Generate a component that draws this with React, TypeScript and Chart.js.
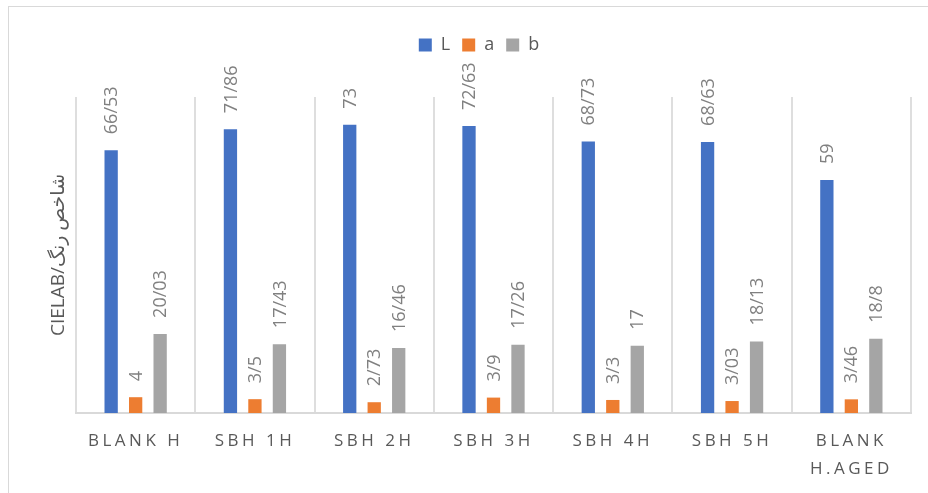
import React, { useEffect, useRef } from "react";
import { Chart, registerables, layouts } from "chart.js";

Chart.register(...registerables);

const categories: (string | string[])[] = [
  "BLANK H",
  "SBH 1H",
  "SBH 2H",
  "SBH 3H",
  "SBH 4H",
  "SBH 5H",
  ["BLANK", "H.AGED"],
];
const seriesNames = ["L", "a", "b"];
const valuesL = [66.53, 71.86, 73, 72.63, 68.73, 68.63, 59];
const valuesA = [4, 3.5, 2.73, 3.9, 3.3, 3.03, 3.46];
const valuesB = [20.03, 17.43, 16.46, 17.26, 17, 18.13, 18.8];
const seriesColors = ["#4472C4", "#ED7D31", "#A5A5A5"];
const yTitle = "CIELAB/شاخص رنگ";

const W = 919;
const H = 486;
const SPACER = 33;
const X_SPACING = "3.5px";

const fmt = (v: number) => String(v).replace(".", "/");

const spacerPlugin = {
  id: "spacer",
  beforeInit(chart: any) {
    const box: any = {
      position: "top",
      weight: 500,
      fullSize: true,
      options: {},
      left: 0,
      top: 0,
      right: 0,
      bottom: 0,
      width: 0,
      height: 0,
      isHorizontal() {
        return true;
      },
      update(maxWidth: number) {
        this.width = maxWidth;
        this.height = SPACER;
      },
      draw() {},
    };
    layouts.addBox(chart, box);
  },
};

const labelPlugin = {
  id: "valueLabels",
  beforeDraw(chart: any) {
    (chart.ctx as any).letterSpacing = "0px";
  },
  afterDatasetsDraw(chart: any) {
    const ctx = chart.ctx as any;
    ctx.save();
    ctx.letterSpacing = "0px";
    ctx.font = '18px "Open Sans"';
    ctx.fillStyle = "#808080";
    ctx.textAlign = "left";
    ctx.textBaseline = "middle";
    chart.data.datasets.forEach((ds: any, di: number) => {
      const meta = chart.getDatasetMeta(di);
      meta.data.forEach((bar: any, i: number) => {
        const v = ds.data[i] as number;
        ctx.save();
        ctx.translate(bar.x + 1, bar.y - 16);
        ctx.rotate(-Math.PI / 2);
        ctx.fillText(fmt(v), 0, 0);
        ctx.restore();
      });
    });
    ctx.restore();
    ctx.letterSpacing = X_SPACING;
  },
  afterDraw(chart: any) {
    (chart.ctx as any).letterSpacing = "0px";
  },
};

export default function App() {
  const ref = useRef<HTMLCanvasElement | null>(null);
  useEffect(() => {
    if (!ref.current) return;
    const chart = new Chart(ref.current, {
      type: "bar",
      data: {
        labels: categories as any,
        datasets: [valuesL, valuesA, valuesB].map((d, i) => ({
          label: seriesNames[i],
          data: d,
          backgroundColor: seriesColors[i],
          borderWidth: 0,
          categoryPercentage: 0.616,
          barPercentage: 0.543,
        })),
      },
      options: {
        responsive: false,
        animation: false,
        events: [],
        layout: { padding: { top: 17, left: 38, right: 17, bottom: 0 } },
        plugins: {
          tooltip: { enabled: false },
          legend: {
            position: "top",
            align: "center",
            labels: {
              boxWidth: 13,
              boxHeight: 13,
              padding: 12,
              color: "#595959",
              font: { family: "Open Sans", size: 18 },
            },
          },
        },
        scales: {
          x: {
            grid: {
              display: true,
              color: "#dedede",
              lineWidth: 2,
              drawTicks: false,
              offset: true,
            },
            border: { display: true, color: "#d9d9d9", width: 2 },
            ticks: {
              z: 1,
              color: "#595959",
              padding: 15,
              maxRotation: 0,
              autoSkip: false,
              font: { family: "Open Sans", size: 17, lineHeight: 1.6 },
            },
            afterFit(scale: any) {
              scale.height = 80;
            },
          },
          y: {
            min: 0,
            max: 80,
            grid: { display: false },
            border: { display: false },
            ticks: { display: false },
            title: {
              display: true,
              text: yTitle,
              color: "#595959",
              padding: { top: 0, bottom: 0 },
              font: { family: "'Open Sans', 'DejaVu Sans', sans-serif", size: 19 },
            },
            afterFit(scale: any) {
              scale.width = 29;
            },
          },
        },
      },
      plugins: [spacerPlugin, labelPlugin],
    } as any);
    return () => chart.destroy();
  }, []);

  return (
    <div
      style={{
        position: "fixed",
        left: 8,
        top: 6,
        width: W,
        height: H,
        border: "1px solid #d9d9d9",
        background: "#fff",
      }}
    >
      <canvas ref={ref} width={W} height={H} style={{ display: "block", width: W, height: H }} />
    </div>
  );
}
